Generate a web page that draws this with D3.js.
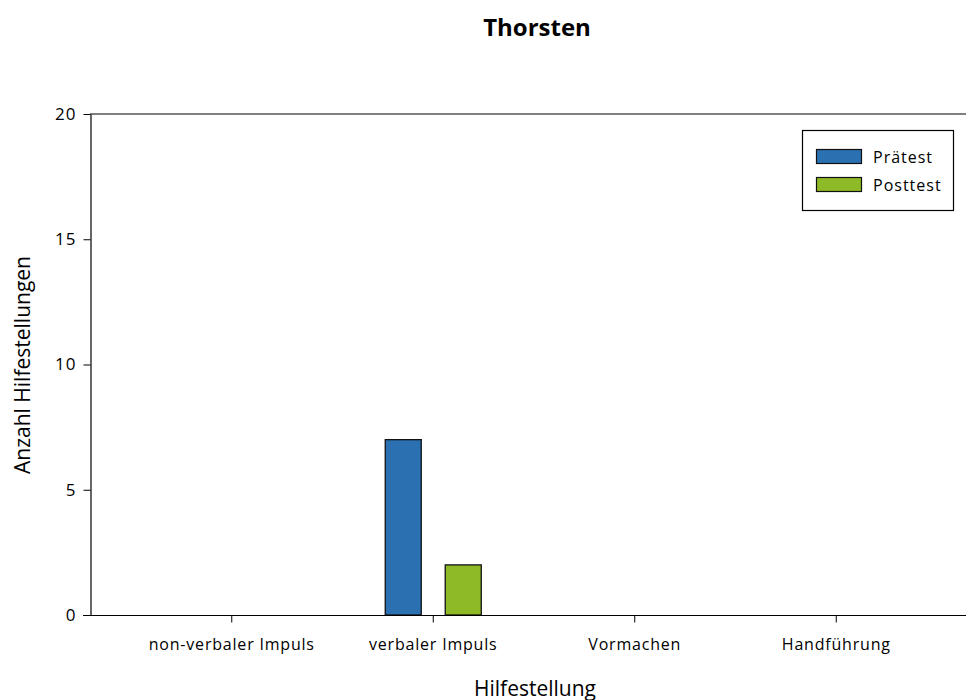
<!DOCTYPE html>
<html><head><meta charset="utf-8">
<script src="https://cdn.jsdelivr.net/npm/d3@7"></script>
<style>body{margin:0;background:#fff}svg{display:block}text{font-family:"Open Sans","Noto Sans",sans-serif;fill:#000}</style>
</head><body>
<script>
const categories = ["non-verbaler Impuls","verbaler Impuls","Vormachen","Handführung"];
const seriesNames = ["Prätest","Posttest"];
const praetest = [0,7,0,0];
const posttest = [0,2,0,0];
const yTicks = [0,5,10,15,20];
const colors = ["#2b70b1","#8fba27"];

const W=966,H=700;
const svg=d3.select("body").append("svg").attr("width",W).attr("height",H);
const x=d3.scaleBand().domain(categories).range([131,937]);
const y=d3.scaleLinear().domain([0,20]).range([615,114]);
const xo=d3.scaleBand().domain(seriesNames).range([-48,48]).paddingInner(0.4);
const values=[praetest,posttest];

// top line
svg.append("line").attr("x1",90).attr("x2",W).attr("y1",y(20)).attr("y2",y(20)).attr("stroke","#000").attr("stroke-width",1.2);

// y axis
const ya=svg.append("g").attr("transform","translate(90.5,0)").call(d3.axisLeft(y).tickValues(yTicks).tickSize(7).tickSizeOuter(0));
ya.select(".domain").attr("stroke","#000").attr("stroke-width",1.2);
ya.selectAll("text").attr("font-size",17).attr("letter-spacing",1).attr("dx",-4);

// bars
seriesNames.forEach((s,si)=>{
  svg.append("g").selectAll("rect").data(categories.map((c,i)=>({c,v:values[si][i]})).filter(d=>d.v>0))
   .join("rect")
   .attr("x",d=>x(d.c)+x.bandwidth()/2+xo(s))
   .attr("width",xo.bandwidth())
   .attr("y",d=>y(d.v)).attr("height",d=>y(0)-y(d.v))
   .attr("fill",colors[si]).attr("stroke","#111").attr("stroke-width",1.3);
});

// x axis
const xa=svg.append("g").attr("transform","translate(0,615.5)").call(d3.axisBottom(x).tickSize(7).tickSizeOuter(0));
xa.select(".domain").remove();
svg.append("line").attr("x1",83).attr("x2",W).attr("y1",615.5).attr("y2",615.5).attr("stroke","#000").attr("stroke-width",1.2);
xa.selectAll("text").attr("font-size",16).attr("letter-spacing",0.8).attr("dy","1.5em");

// titles
svg.append("text").attr("x",537).attr("y",36).attr("text-anchor","middle").attr("font-size",24).attr("font-weight","bold").text("Thorsten");
svg.append("text").attr("x",535).attr("y",696).attr("text-anchor","middle").attr("font-size",21).text("Hilfestellung");
svg.append("text").attr("transform","translate(30,365) rotate(-90)").attr("text-anchor","middle").attr("font-size",21).text("Anzahl Hilfestellungen");

// legend
const lg=svg.append("g");
lg.append("rect").attr("x",802.5).attr("y",130.5).attr("width",151).attr("height",80).attr("fill","#fff").attr("stroke","#000").attr("stroke-width",1.2);
seriesNames.forEach((s,i)=>{
  lg.append("rect").attr("x",816.5).attr("y",149.5+i*28).attr("width",45).attr("height",14).attr("fill",colors[i]).attr("stroke","#111").attr("stroke-width",1.2);
  lg.append("text").attr("x",873).attr("y",163+i*28).attr("font-size",16).attr("letter-spacing",1).text(s);
});
</script>
</body></html>
